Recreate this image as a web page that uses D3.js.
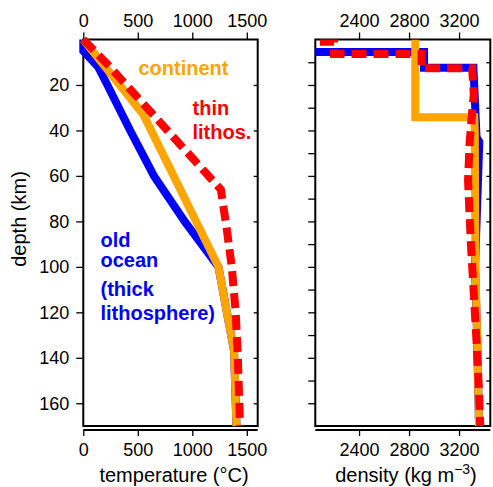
<!DOCTYPE html>
<html>
<head>
<meta charset="utf-8">
<script src="https://cdn.jsdelivr.net/npm/d3@7"></script>
<style>
  body { margin: 0; background: #fff; }
  svg { display: block; font-family: "Liberation Sans", Arial, sans-serif; }
</style>
</head>
<body>
<div id="chart"></div>
<script>
// tick values
const tempTicks = [0, 500, 1000, 1500];
const tempMinor = d3.range(0, 1601, 100);
const densTicks = [2400, 2800, 3200];
const densMinor = d3.range(2100, 3401, 100);
const depthTicks = [20, 40, 60, 80, 100, 120, 140, 160];
const depthMinor = d3.range(10, 170, 10);

// temperature profiles [T (°C), depth (km)]
const oceanTemp = [[0, 0], [0, 5], [135, 12], [221, 20], [430, 40], [648, 60], [930, 80], [1240, 100], [1383, 137], [1405, 170]];
const contTemp = [[0, 0], [550, 33], [1240, 100], [1383, 137], [1405, 170]];
const thinTemp = [[0, 0], [215, 10.5], [1262, 66], [1318, 84], [1362, 100], [1398, 120], [1418, 140], [1438, 170]];

// density profiles [rho (kg/m3), depth (km)]
const oceanDens = [[1030, 0], [1030, 5.5], [2920, 5.5], [2920, 12.4], [3315, 12.4], [3340, 43], [3362, 45], [3328, 100], [3344, 129], [3360, 170]];
const contDens = [[2850, 0], [2850, 34.2], [3322, 34.2], [3326, 41], [3331, 100], [3344, 129], [3360, 170]];
const thinDens = [[1030, 1], [2200, 1], [2200, 6.4], [2900, 6.4], [2900, 12.7], [3305, 12.7], [3318, 24], [3300, 35], [3285, 45], [3272, 62], [3280, 72], [3296, 91], [3318, 112], [3340, 133], [3358, 153], [3370, 170]];

const W = 493, H = 487;
const svg = d3.select("#chart").append("svg").attr("width", W).attr("height", H);

const y = d3.scaleLinear().domain([0, 170]).range([39.5, 426]);
const xT = d3.scaleLinear().domain([0, 1600]).range([83.3, 257.7]);
const xD = d3.scaleLinear().domain([2050, 3450]).range([315.3, 490.3]);

const BLUE = "#0000ff", ORANGE = "#ffa500", RED = "#ff0000";
const fmt = d3.format("d");

function panel(x, opts) {
  const g = svg.append("g");
  const [x0, x1] = x.range(), [y0, y1] = y.range();

  // top axis
  const top = g.append("g").attr("transform", `translate(0,${y0})`);
  top.call(d3.axisTop(x).tickValues(opts.minor).tickSize(4).tickFormat(""));
  top.call(d3.axisTop(x).tickValues(opts.major).tickSize(7).tickPadding(6).tickFormat(fmt));
  // bottom axis, a little below the frame
  const bot = g.append("g").attr("transform", `translate(0,${y1 + 4})`);
  bot.call(d3.axisBottom(x).tickValues(opts.minor).tickSize(3).tickFormat(""));
  bot.call(d3.axisBottom(x).tickValues(opts.major).tickSize(6).tickPadding(7).tickFormat(fmt));
  top.selectAll(".domain").remove();
  bot.selectAll(".domain").attr("stroke-width", 2).attr("d", `M${x0},0H${x1}`);

  // left axis (outward)
  const left = g.append("g").attr("transform", `translate(${x0},0)`);
  left.call(d3.axisLeft(y).tickValues(opts.yticks).tickSize(7).tickPadding(7)
    .tickFormat(opts.ylabels ? fmt : ""));
  left.selectAll(".domain").remove();
  // right side ticks (inward)
  const right = g.append("g").attr("transform", `translate(${x1},0)`);
  right.call(d3.axisRight(y).tickValues(opts.yticks).tickSize(-4).tickFormat(""));
  right.selectAll(".domain").remove();

  g.selectAll(".tick line").attr("stroke", "#000").attr("stroke-width", 1.3);
  g.selectAll(".tick text").attr("font-size", 18).attr("fill", "#000")
    .attr("font-family", "Liberation Sans, Arial, sans-serif");

  // frame
  g.append("rect").attr("x", x0).attr("y", y0).attr("width", x1 - x0).attr("height", y1 - y0)
    .attr("fill", "none").attr("stroke", "#000").attr("stroke-width", 2);
  return g;
}

panel(xT, { major: tempTicks, minor: tempMinor, yticks: depthTicks, ylabels: true });
panel(xD, { major: densTicks, minor: densMinor, yticks: depthMinor, ylabels: false });

// clip for density panel
svg.append("clipPath").attr("id", "clipD").append("rect")
  .attr("x", xD.range()[0]).attr("y", y.range()[0])
  .attr("width", xD.range()[1] - xD.range()[0]).attr("height", y.range()[1] - y.range()[0]);

function draw(x, data, color, dashed, clip) {
  const line = d3.line().x(d => x(d[0])).y(d => y(d[1]));
  const p = svg.append("path").datum(data).attr("d", line)
    .attr("fill", "none").attr("stroke", color).attr("stroke-width", 8);
  if (dashed) p.attr("stroke-dasharray", "15,7");
  if (clip) p.attr("clip-path", "url(#clipD)");
}

draw(xT, oceanTemp, BLUE, false, false);
draw(xT, contTemp, ORANGE, false, false);
draw(xT, thinTemp, RED, true, false);

draw(xD, oceanDens, BLUE, false, true);
draw(xD, contDens, ORANGE, false, true);
draw(xD, thinDens, RED, true, true);

// labels
function label(lines, x, ys, color) {
  const t = svg.append("text").attr("font-size", 20).attr("font-weight", "bold").attr("fill", color);
  lines.forEach((s, i) => t.append("tspan").attr("x", x).attr("y", ys[i]).text(s));
}
label(["continent"], 138.5, [75], ORANGE);
label(["thin", "lithos."], 192.5, [115, 138.5], RED);
label(["old", "ocean"], 100.5, [246.5, 266.5], BLUE);
label(["(thick", "lithosphere)"], 100.5, [296, 319.5], BLUE);

// axis titles
svg.append("text").attr("x", 174).attr("y", 482).attr("text-anchor", "middle")
  .attr("font-size", 20).text("temperature (°C)");
const dt = svg.append("text").attr("x", 406).attr("y", 482).attr("text-anchor", "middle")
  .attr("font-size", 20);
dt.append("tspan").text("density (kg m");
dt.append("tspan").attr("font-size", 14).attr("dy", -8).text("\u22123");
dt.append("tspan").attr("dy", 8).text(")");
svg.append("text").attr("transform", "translate(26,219) rotate(-90)")
  .attr("text-anchor", "middle").attr("font-size", 20).text("depth (km)");
</script>
</body>
</html>
